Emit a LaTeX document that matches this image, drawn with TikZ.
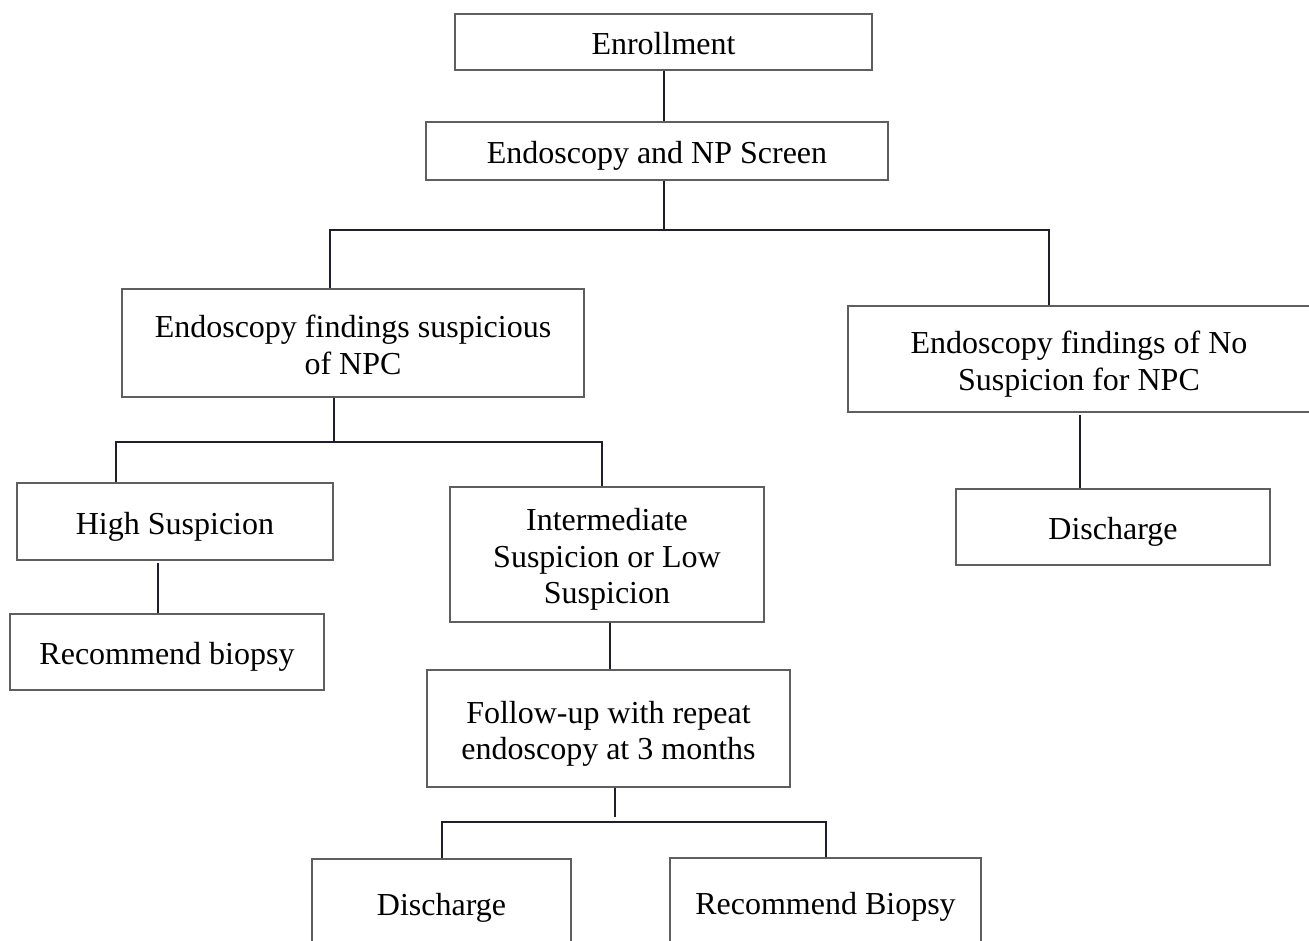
\documentclass[tikz,border=0pt]{standalone}
\usepackage{fontspec}
\setmainfont{Liberation Serif}
\definecolor{boxline}{RGB}{95,95,95}
\definecolor{conn}{RGB}{30,30,45}
\newcommand{\boxtext}[1]{\raisebox{-5.5pt}[\height][\depth]{\begin{tabular}{@{}c@{}}#1\end{tabular}}}
\begin{document}
\begin{tikzpicture}[x=1pt,y=-1pt,
  flowbox/.style={draw=boxline,line width=1.4pt,inner sep=0pt,
    font=\fontsize{32}{36.5}\selectfont},
  link/.style={draw=conn,line width=1.8pt}]
\useasboundingbox (0,0) rectangle (1309,940);
\clip (0,0) rectangle (1309,940);
% boxes
\node[flowbox,minimum width=417pt,minimum height=56pt] (enr) at (663.5,42) {\boxtext{Enrollment}};
\node[flowbox,minimum width=462pt,minimum height=58pt] (scr) at (657,151) {\boxtext{Endoscopy and NP Screen}};
\node[flowbox,minimum width=462pt,minimum height=108pt] (sus) at (353,343) {\boxtext{Endoscopy findings suspicious\\of NPC}};
\node[flowbox,minimum width=462pt,minimum height=106pt] (nos) at (1079,359) {\boxtext{Endoscopy findings of No\\Suspicion for NPC}};
\node[flowbox,minimum width=316pt,minimum height=77pt] (high) at (175,521.5) {\boxtext{High Suspicion}};
\node[flowbox,minimum width=314pt,minimum height=76pt] (rec) at (167,652) {\boxtext{Recommend biopsy}};
\node[flowbox,minimum width=314pt,minimum height=135pt] (inter) at (607,554.5) {\boxtext{Intermediate\\Suspicion or Low\\Suspicion}};
\node[flowbox,minimum width=363pt,minimum height=117pt] (fol) at (608.5,728.5) {\boxtext{Follow-up with repeat\\endoscopy at 3 months}};
\node[flowbox,minimum width=314pt,minimum height=76pt] (dis1) at (1113,527) {\boxtext{Discharge}};
\node[flowbox,minimum width=259pt,minimum height=88pt] (dis2) at (441.5,903) {\boxtext{Discharge}};
\node[flowbox,minimum width=311pt,minimum height=88pt] (rbio) at (825.5,902) {\boxtext{Recommend Biopsy}};
% junction coordinates
\coordinate (j1) at (664,230);
\coordinate (j1L) at (330,230);
\coordinate (j1R) at (1049,230);
\coordinate (j2) at (334,442);
\coordinate (j2L) at (116,442);
\coordinate (j2R) at (602,442);
\coordinate (c3) at (158,563);
\coordinate (c4) at (610,622);
\coordinate (j3) at (615,822);
\coordinate (j3L) at (442,822);
\coordinate (j3R) at (826,822);
\coordinate (c5) at (1080,415);
% connectors
\draw[link] (enr.south -| j1) -- (scr.north -| j1);
\draw[link] (scr.south -| j1) -- (j1);
\draw[link] (j1L |- sus.north) -- (j1L) -- (j1R) -- (j1R |- nos.north);
\draw[link] (sus.south -| j2) -- (j2);
\draw[link] (j2L |- high.north) -- (j2L) -- (j2R) -- (j2R |- inter.north);
\draw[link] (c3) -- (c3 |- rec.north);
\draw[link] (inter.south -| c4) -- (fol.north -| c4);
\draw[link] (fol.south -| j3) -- ([yshift=5pt]j3);
\draw[link] (j3L |- dis2.north) -- (j3L) -- (j3R) -- (j3R |- rbio.north);
\draw[link] (c5) -- (c5 |- dis1.north);
\end{tikzpicture}
\end{document}
